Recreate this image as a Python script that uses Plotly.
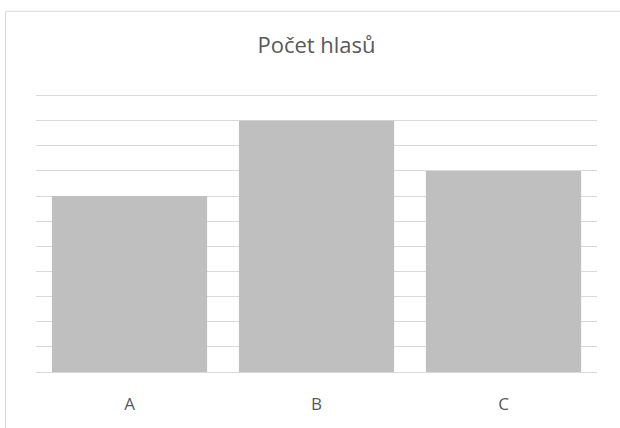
import plotly.graph_objects as go

categories = ["A", "B", "C"]
votes = [7, 10, 8]
title_text = "Počet hlasů"

W, H = 620, 428
ML, MR, MT, MB = 36, 23, 92.5, 55.5
YMAX = 11.1
pw = W - ML - MR
ph = H - MT - MB

def px_x(p):
    return (p - ML) / pw

def px_y(p):
    return (H - MB - p) / ph

frame_line = dict(color="#d9d9d9", width=1)

fig = go.Figure(go.Bar(
    x=categories, y=votes,
    marker=dict(color="#bfbfbf", line=dict(width=0)),
    hoverinfo="x+y",
))

fig.update_layout(
    width=W, height=H,
    margin=dict(l=ML, r=MR, t=MT, b=MB, pad=0),
    paper_bgcolor="white", plot_bgcolor="white",
    bargap=0.17,
    showlegend=False,
    title=dict(text=title_text, x=0.5, xanchor="center", xref="paper",
               y=1 - 45 / H, yanchor="middle",
               font=dict(family="Open Sans, Lato, sans-serif", size=22, color="#595959")),
    font=dict(family="Open Sans, Lato, sans-serif", color="#595959"),
    shapes=[
        dict(type="line", xref="paper", yref="paper",
             x0=px_x(5.5), x1=px_x(5.5), y0=px_y(440), y1=px_y(10.5),
             line=frame_line, layer="below"),
        dict(type="line", xref="paper", yref="paper",
             x0=px_x(5.5), x1=px_x(630), y0=px_y(10.5), y1=px_y(10.5),
             line=frame_line, layer="below"),
    ],
)
fig.update_xaxes(showgrid=False, showline=True, linecolor="#d9d9d9", linewidth=1,
                 ticks="", tickfont=dict(size=17, color="#595959"), ticklabelstandoff=17)
fig.update_yaxes(range=[0, YMAX], dtick=1, showgrid=True, gridcolor="#d9d9d9", gridwidth=1,
                 showticklabels=False, zeroline=False, ticks="")

fig.write_html("out.html", config={"displayModeBar": False},
               post_script="document.body.style.margin='0';document.body.style.overflow='hidden';")
